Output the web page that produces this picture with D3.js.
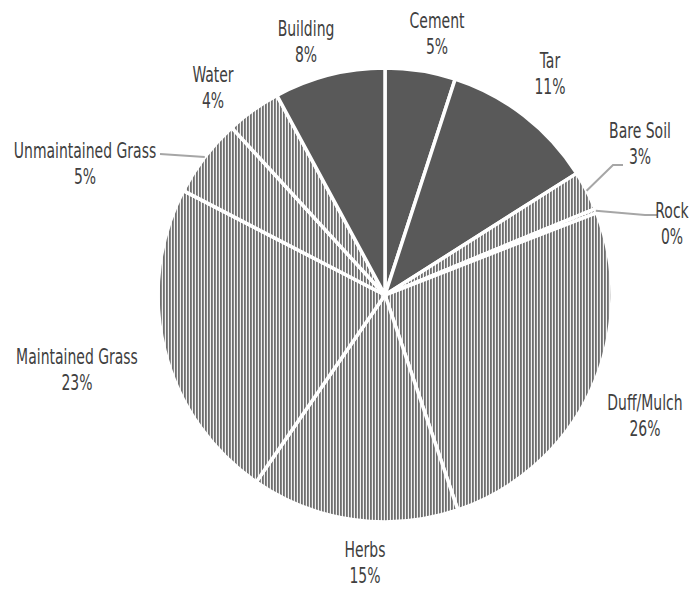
<!DOCTYPE html>
<html><head><meta charset="utf-8">
<script src="https://cdn.jsdelivr.net/npm/d3@7"></script>
<style>html,body{margin:0;padding:0;background:#fff}svg{display:block}</style>
</head><body>
<script>
// ---- data ----
const categories = ["Cement","Tar","Bare Soil","Rock","Duff/Mulch","Herbs","Maintained Grass","Unmaintained Grass","Water","Building"];
const values = [5.0, 11.0, 2.8, 0.3, 25.7, 14.8, 23.0, 5.6, 3.9, 7.9];
const pctLabels = ["5%","11%","3%","0%","26%","15%","23%","5%","4%","8%"];
const solidGroup = ["Cement","Tar","Building"];

// ---- layout ----
const W = 699, H = 590, cx = 385, cy = 295, R = 227;
// label centre offsets from pie centre (annotation layout)
const labelOffsets = {
  "Cement":[52,-262], "Tar":[165,-222], "Bare Soil":[255,-152], "Rock":[287,-72],
  "Duff/Mulch":[260,120], "Herbs":[-20,267], "Maintained Grass":[-308,74],
  "Unmaintained Grass":[-300,-132], "Water":[-172,-208], "Building":[-79,-254]
};
const leaders = {"Bare Soil":[[228,-130],[238,-130]], "Rock":[[260,-80],[272,-80]], "Unmaintained Grass":[[-225,-141]]};

const svg = d3.select("body").append("svg").attr("width",W).attr("height",H);
const defs = svg.append("defs");
const pat = defs.append("pattern").attr("id","vstripe").attr("patternUnits","userSpaceOnUse")
  .attr("width",3).attr("height",10);
pat.append("rect").attr("width",3).attr("height",10).attr("fill","#f2f2f2");
pat.append("rect").attr("x",0).attr("width",1.8).attr("height",10).attr("fill","#6e6e6e");

const g = svg.append("g").attr("transform",`translate(${cx},${cy})`);
const pie = d3.pie().sort(null).value(d=>d.v);
const data = categories.map((c,i)=>({c, v:values[i], p:pctLabels[i]}));
const arcs = pie(data);
const arc = d3.arc().innerRadius(0).outerRadius(R);

g.selectAll("path.slice").data(arcs).join("path").attr("class","slice")
  .attr("d",arc)
  .attr("fill",d=>solidGroup.includes(d.data.c) ? "#595959" : "url(#vstripe)")
  .attr("stroke","#ffffff").attr("stroke-width",3.5).attr("stroke-linejoin","round");

// leader lines
arcs.forEach(d=>{
  const pts = leaders[d.data.c];
  if(!pts) return;
  const a = (d.startAngle+d.endAngle)/2;
  const start = [R*Math.sin(a), -R*Math.cos(a)];
  g.append("path").attr("d", d3.line()([start, ...pts]))
    .attr("fill","none").attr("stroke","#a6a6a6").attr("stroke-width",2);
});

const font = "'DejaVu Sans Condensed','Liberation Sans Narrow',sans-serif";
const lab = g.selectAll("g.lab").data(arcs).join("g").attr("class","lab")
  .attr("transform",d=>{const o=labelOffsets[d.data.c];return `translate(${o[0]},${o[1]}) scale(0.74,1)`;});
lab.append("text").attr("text-anchor","middle").attr("y",-5)
  .style("font-family",font).style("font-size","21px").style("font-stretch","condensed").attr("fill","#404040")
  .text(d=>d.data.c);
lab.append("text").attr("text-anchor","middle").attr("y",21)
  .style("font-family",font).style("font-size","21px").style("font-stretch","condensed").attr("fill","#404040")
  .text(d=>d.data.p);
</script>
</body></html>
